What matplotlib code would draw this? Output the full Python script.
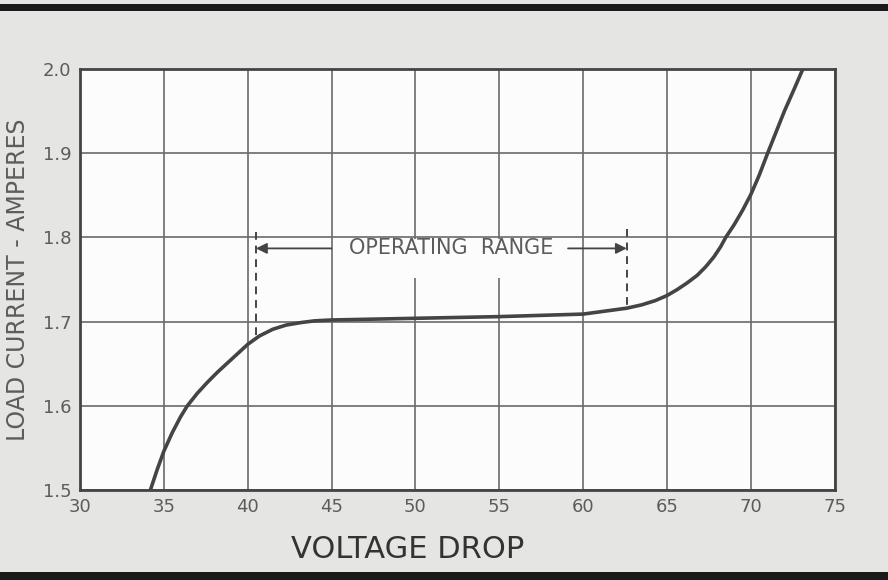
import matplotlib.pyplot as plt
from matplotlib.patches import Rectangle

# curve: voltage drop vs load current
volts = [34.2, 34.6, 35.0, 35.5, 36.0, 36.4, 37.0, 37.6, 38.2, 38.8, 39.4, 40.0,
         40.7, 41.5, 42.3, 43.2, 44.0, 45.0, 50.0, 55.0, 60.0, 62.6, 63.5, 64.3,
         65.0, 65.6, 66.2, 66.8, 67.3, 67.8, 68.2, 68.5, 69.0, 69.5, 70.0, 70.5,
         71.0, 71.5, 72.0, 72.6, 73.1]
amps = [1.500, 1.524, 1.546, 1.568, 1.587, 1.600, 1.615, 1.628, 1.640, 1.651, 1.662, 1.673,
        1.683, 1.691, 1.696, 1.699, 1.701, 1.702, 1.704, 1.706, 1.709, 1.716, 1.720, 1.725,
        1.731, 1.738, 1.746, 1.755, 1.765, 1.777, 1.789, 1.800, 1.815, 1.832, 1.851, 1.874,
        1.900, 1.925, 1.950, 1.977, 2.000]

x_ticks = [30, 35, 40, 45, 50, 55, 60, 65, 70, 75]
y_ticks = [1.5, 1.6, 1.7, 1.8, 1.9, 2.0]
range_lo, range_hi = 40.5, 62.6
range_label = "OPERATING  RANGE"

ink = "#444444"
grey = "#5c5c5c"

fig = plt.figure(figsize=(8.88, 5.8), dpi=100, facecolor="#e5e5e3")
ax = fig.add_axes([0.090, 0.155, 0.850, 0.726])
ax.set_facecolor("#fcfcfc")

ax.set_xlim(30, 75)
ax.set_ylim(1.5, 2.0)
ax.set_xticks(x_ticks)
ax.set_yticks(y_ticks)
ax.set_xticklabels([str(v) for v in x_ticks], fontsize=13, color=grey)
ax.set_yticklabels([f"{v:.1f}" for v in y_ticks], fontsize=13, color=grey)
ax.tick_params(length=0, pad=6)
ax.grid(True, color="#6a6a6a", linewidth=1.2)
ax.set_axisbelow(True)
for s in ax.spines.values():
    s.set_color(ink)
    s.set_linewidth(2)

# white patch behind the range label (hides grid there)
ax.add_patch(Rectangle((46.5, 1.752), 12.0, 0.046, facecolor="#fcfcfc",
                       edgecolor="none", zorder=1.5))

ax.plot(volts, amps, color=ink, linewidth=2.6, zorder=3, solid_joinstyle="round")

# dashed limits of the operating range
ax.plot([range_lo, range_lo], [1.807, 1.681], color=ink, linestyle=(0, (4, 3)), linewidth=1.4, zorder=3)
ax.plot([range_hi, range_hi], [1.810, 1.716], color=ink, linestyle=(0, (4, 3)), linewidth=1.4, zorder=3)

y_arrow = 1.787
ax.text((45.2 + 59.1) / 2, y_arrow, range_label, fontsize=15, color=grey,
        ha="center", va="center", zorder=4)
arrow = dict(arrowstyle="-|>", color=ink, lw=1.3, mutation_scale=16, shrinkA=0, shrinkB=0)
ax.annotate("", xy=(range_lo, y_arrow), xytext=(45.0, y_arrow), arrowprops=arrow, zorder=4)
ax.annotate("", xy=(range_hi, y_arrow), xytext=(59.1, y_arrow), arrowprops=arrow, zorder=4)

fig.text(408 / 888, 1 - 550 / 580, "VOLTAGE DROP", fontsize=22, color="#333333",
         ha="center", va="center")
fig.text(18 / 888, 1 - 280 / 580, "LOAD CURRENT - AMPERES", fontsize=17, color=grey,
         ha="center", va="center", rotation=90)

# dark rules at the top and bottom of the scanned page
fig.add_artist(Rectangle((0, 0.981), 1, 0.012, transform=fig.transFigure,
                         facecolor="#1a1a1a", edgecolor="none"))
fig.add_artist(Rectangle((0, 0.0), 1, 0.013, transform=fig.transFigure,
                         facecolor="#1a1a1a", edgecolor="none"))

fig.savefig("out.png", dpi=100, facecolor=fig.get_facecolor())
